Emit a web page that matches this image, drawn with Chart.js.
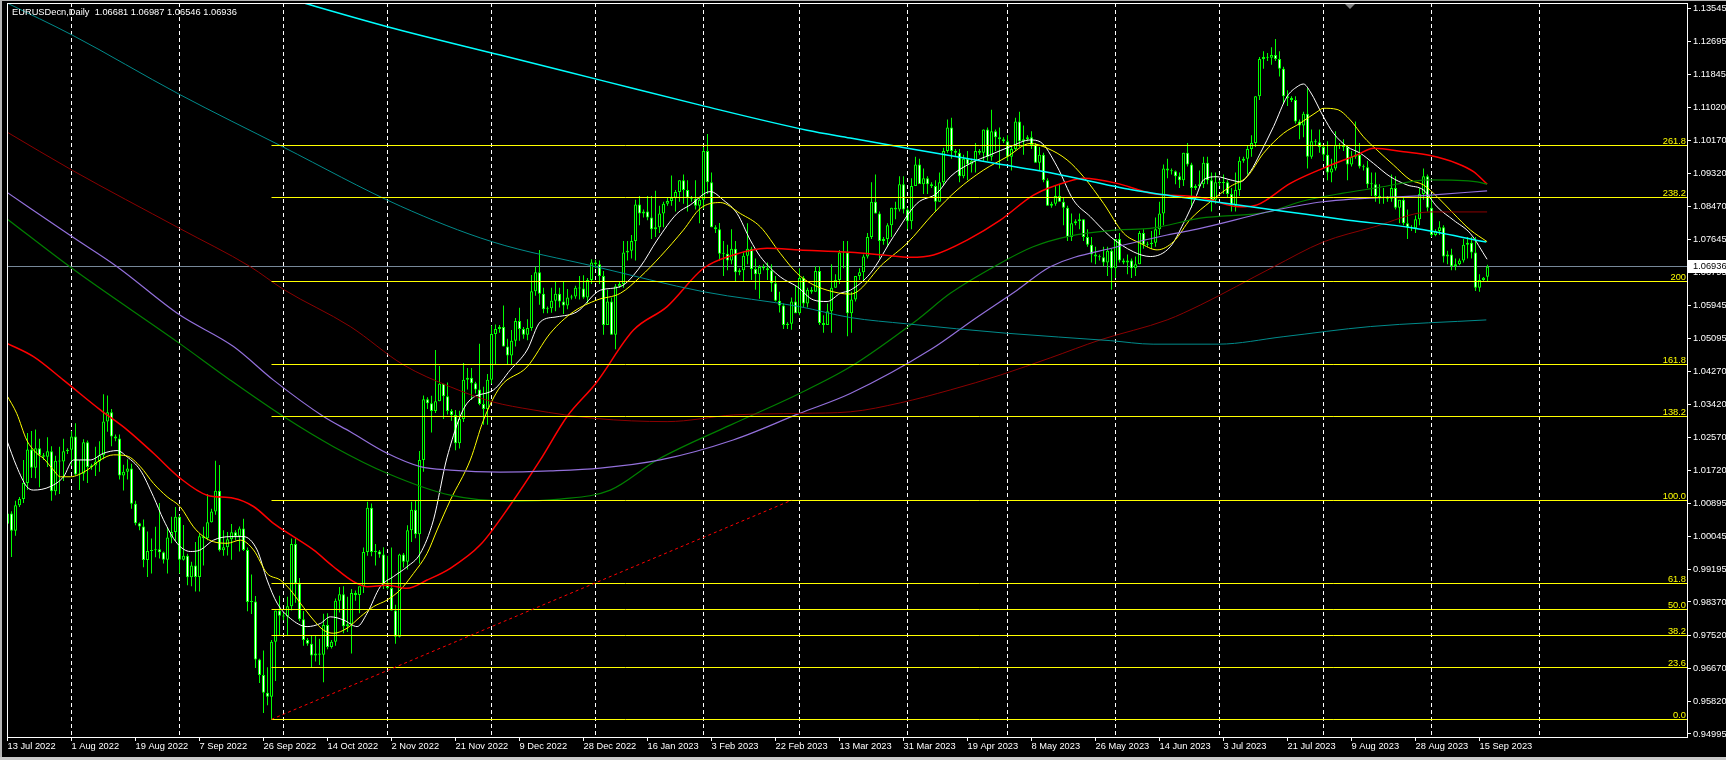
<!DOCTYPE html>
<html>
<head>
<meta charset="utf-8">
<title>EURUSDecn,Daily</title>
<script src="https://cdn.jsdelivr.net/npm/chart.js@4.4.0/dist/chart.umd.min.js"></script>
<style>
  html, body { margin: 0; padding: 0; background: #000; }
  canvas { display: block; }
</style>
</head>
<body>
<canvas id="chart" width="1726" height="760"></canvas>
<script>
// Bar index 0 = Mon 1 Aug 2022. The broker has Sunday bars, so a week is Sun..Fri (6 bars).
const firstBar = -16; // Wed 13 Jul 2022

// Daily candles, one row per week (Sun, Mon, Tue, Wed, Thu, Fri)
const opens = [
  1.0037,1.0063,1.0019,
  1.0084,1.0100,1.0141,1.0227,1.0180,1.0230, // Jul 17
  1.0212,1.0208,1.0222,1.0120,1.0198,1.0196,
  1.0222,1.0226,1.0260,1.0163,1.0165,1.0245,
  1.0182,1.0186,1.0196,1.0212,1.0298,1.0322, // Aug 7
  1.0260,1.0255,1.0160,1.0170,1.0178,1.0088,
  1.0038,1.0030,0.9944,0.9967,0.9969,0.9972,
  0.9964,0.9945,1.0002,1.0016,1.0055,0.9945,
  0.9955,0.9900,0.9930,0.9901,1.0005,1.0000, // Sep 4
  1.0041,1.0068,1.0121,0.9969,0.9977,0.9997,
  1.0015,1.0005,1.0025,0.9970,0.9837,0.9838,
  0.9690,0.9650,0.9605,0.9595,0.9735,0.9815,
  0.9802,0.9800,0.9826,0.9985,0.9884,0.9793, // Oct 2
  0.9740,0.9730,0.9700,0.9705,0.9702,0.9778,
  0.9722,0.9735,0.9840,0.9857,0.9775,0.9780,
  0.9860,0.9855,0.9877,0.9965,1.0078,0.9965,
  0.9966,0.9958,0.9882,0.9873,0.9815,0.9748,
  0.9958,0.9940,1.0020,1.0073,1.0010,1.0200, // Nov 6
  1.0355,1.0345,1.0325,1.0350,1.0395,1.0363,
  1.0325,1.0315,1.0243,1.0305,1.0405,1.0410,
  1.0396,1.0380,1.0343,1.0330,1.0405,1.0522,
  1.0535,1.0540,1.0490,1.0467,1.0505,1.0555, // Dec 4
  1.0535,1.0520,1.0537,1.0631,1.0680,1.0625,
  1.0585,1.0588,1.0607,1.0625,1.0605,1.0595,
  1.0615,1.0618,1.0640,1.0638,1.0615,1.0660,
  1.0705,1.0700,1.0670,1.0545,1.0605,1.0520, // Jan 1
  1.0644,1.0650,1.0730,1.0735,1.0760,1.0853,
  1.0830,1.0835,1.0820,1.0790,1.0795,1.0830,
  1.0855,1.0862,1.0870,1.0885,1.0915,1.0890,
  1.0870,1.0868,1.0850,1.0865,1.0990,1.0910,
  1.0795,1.0790,1.0727,1.0727,1.0710,1.0740, // Feb 5
  1.0680,1.0685,1.0722,1.0740,1.0688,1.0675,
  1.0693,1.0690,1.0685,1.0652,1.0607,1.0595,
  1.0545,1.0548,1.0605,1.0575,1.0665,1.0600,
  1.0635,1.0630,1.0683,1.0550,1.0545,1.0580, // Mar 5
  1.0640,1.0660,1.0730,1.0730,1.0575,1.0610,
  1.0670,1.0680,1.0720,1.0770,1.0860,1.0830,
  1.0760,1.0765,1.0800,1.0845,1.0840,1.0905,
  1.0840,1.0810,1.0900,1.0955,1.0905,1.0920, // Apr 2
  1.0905,1.0900,1.0860,1.0910,1.0990,1.1050,
  1.0990,1.0985,1.0925,1.0970,1.0955,1.0965,
  1.0990,1.0985,1.1045,1.0975,1.1040,1.1025,
  1.1020,1.1015,1.0975,1.0995,1.1065,1.1015,
  1.1020,1.1025,1.1005,1.0960,1.0980,1.0915, // May 7
  1.0850,1.0855,1.0875,1.0860,1.0845,1.0770,
  1.0805,1.0810,1.0815,1.0770,1.0750,1.0725,
  1.0720,1.0718,1.0705,1.0735,1.0690,1.0765,
  1.0710,1.0705,1.0710,1.0690,1.0700,1.0780, // Jun 4
  1.0750,1.0752,1.0755,1.0790,1.0830,1.0945,
  1.0940,1.0938,1.0925,1.0915,1.0985,1.0955,
  1.0895,1.0900,1.0905,1.0960,1.0915,1.0865,
  1.0910,1.0908,1.0910,1.0880,1.0850,1.0890, // Jul 2
  1.0965,1.0970,1.0995,1.1010,1.1130,1.1225,
  1.1230,1.1228,1.1235,1.1225,1.1200,1.1130,
  1.1125,1.1120,1.1065,1.1055,1.1085,1.0975,
  1.1015,1.1012,1.1000,1.0980,1.0935,1.0945,
  1.1005,1.1002,1.1000,1.0955,1.0975,1.0980, // Aug 6
  1.0950,1.0948,1.0905,1.0905,1.0875,1.0870,
  1.0870,1.0868,1.0895,1.0845,1.0865,1.0805,
  1.0795,1.0792,1.0815,1.0880,1.0925,1.0845,
  1.0775,1.0785,1.0795,1.0720,1.0725,1.0695, // Sep 3
  1.0700,1.0710,1.0750,1.0755,1.0730,1.0640,
  1.0660,1.06681
];
const highs = [
  1.0122,1.0069,1.0096,
  1.0105,1.0200,1.0269,1.0274,1.0278,1.0254,
  1.0218,1.0258,1.0235,1.0211,1.0234,1.0254,
  1.0230,1.0274,1.0294,1.0200,1.0253,1.0250,
  1.0190,1.0234,1.0248,1.0368,1.0365,1.0330,
  1.0265,1.0265,1.0188,1.0202,1.0190,1.0096,
  1.0040,1.0048,1.0017,0.9999,1.0029,1.0090,
  0.9966,1.0028,1.0055,1.0080,1.0058,1.0034,
  0.9960,0.9940,0.9990,1.0011,1.0029,1.0113,
  1.0075,1.0198,1.0187,1.0020,1.0016,1.0036,
  1.0020,1.0030,1.0050,0.9976,0.9907,0.9852,
  0.9692,0.9713,0.9670,0.9740,0.9815,0.9853,
  0.9810,0.9850,0.9999,0.9999,0.9898,0.9814,
  0.9745,0.9750,0.9752,0.9743,0.9807,0.9808,
  0.9740,0.9846,0.9875,0.9877,0.9850,0.9870,
  0.9866,0.9876,0.9976,1.0093,1.0089,0.9985,
  0.9970,0.9977,0.9955,0.9976,0.9830,0.9960,
  0.9962,1.0033,1.0093,1.0096,1.0223,1.0365,
  1.0360,1.0364,1.0481,1.0440,1.0395,1.0398,
  1.0330,1.0328,1.0326,1.0448,1.0435,1.0435,
  1.0400,1.0497,1.0387,1.0420,1.0544,1.0546,
  1.0545,1.0595,1.0510,1.0532,1.0563,1.0589,
  1.0540,1.0560,1.0673,1.0694,1.0737,1.0640,
  1.0592,1.0640,1.0657,1.0640,1.0655,1.0637,
  1.0622,1.0645,1.0670,1.0672,1.0665,1.0713,
  1.0712,1.0710,1.0683,1.0635,1.0615,1.0650,
  1.0655,1.0760,1.0760,1.0775,1.0865,1.0875,
  1.0840,1.0875,1.0875,1.0888,1.0850,1.0860,
  1.0870,1.0927,1.0890,1.0915,1.0930,1.0915,
  1.0875,1.0915,1.0870,1.1000,1.1033,1.0935,
  1.0800,1.0806,1.0760,1.0750,1.0790,1.0760,
  1.0690,1.0730,1.0805,1.0745,1.0715,1.0698,
  1.0700,1.0705,1.0700,1.0670,1.0630,1.0600,
  1.0552,1.0615,1.0645,1.0690,1.0670,1.0640,
  1.0642,1.0695,1.0695,1.0570,1.0600,1.0700,
  1.0675,1.0737,1.0760,1.0760,1.0630,1.0670,
  1.0690,1.0725,1.0780,1.0910,1.0930,1.0835,
  1.0770,1.0805,1.0845,1.0860,1.0925,1.0925,
  1.0845,1.0920,1.0975,1.0970,1.0945,1.0925,
  1.0910,1.0915,1.0935,1.0998,1.1070,1.1075,
  1.0995,1.0995,1.0980,1.0990,1.0970,1.1010,
  1.0995,1.1045,1.1050,1.1095,1.1045,1.1050,
  1.1025,1.1030,1.1005,1.1075,1.1090,1.1055,
  1.1030,1.1040,1.1010,1.1000,1.0985,1.0920,
  1.0860,1.0900,1.0905,1.0870,1.0850,1.0830,
  1.0815,1.0830,1.0815,1.0790,1.0770,1.0745,
  1.0725,1.0745,1.0745,1.0740,1.0765,1.0780,
  1.0715,1.0725,1.0715,1.0720,1.0785,1.0790,
  1.0758,1.0785,1.0820,1.0860,1.0955,1.0970,
  1.0945,1.0940,1.0935,1.0985,1.1010,1.0960,
  1.0905,1.0940,1.0975,1.0975,1.0935,1.0935,
  1.0915,1.0930,1.0915,1.0895,1.0935,1.0975,
  1.0975,1.1005,1.1030,1.1130,1.1230,1.1245,
  1.1240,1.1255,1.1276,1.1245,1.1205,1.1145,
  1.1130,1.1130,1.1070,1.1090,1.1150,1.1045,
  1.1020,1.1045,1.1005,1.1015,1.0970,1.1040,
  1.1010,1.1020,1.1005,1.0990,1.1065,1.1010,
  1.0955,1.0965,1.0935,1.0935,1.0905,1.0895,
  1.0875,1.0930,1.0925,1.0865,1.0875,1.0840,
  1.0800,1.0825,1.0895,1.0945,1.0930,1.0880,
  1.0790,1.0810,1.0800,1.0735,1.0740,1.0715,
  1.0715,1.0765,1.0770,1.0770,1.0770,1.0675,
  1.0668,1.06987
];
const lows = [
  0.9998,0.9952,1.0006,
  1.0080,1.0090,1.0124,1.0154,1.0153,1.0130,
  1.0200,1.0182,1.0096,1.0110,1.0113,1.0146,
  1.0215,1.0185,1.0161,1.0123,1.0147,1.0141,
  1.0175,1.0159,1.0170,1.0202,1.0272,1.0235,
  1.0248,1.0150,1.0122,1.0150,1.0075,1.0033,
  1.0020,0.9926,0.9901,0.9910,0.9951,0.9948,
  0.9935,0.9910,0.9987,0.9993,0.9910,0.9943,
  0.9880,0.9877,0.9864,0.9864,0.9930,0.9995,
  1.0040,1.0060,0.9966,0.9955,0.9956,0.9945,
  0.9995,0.9966,0.9967,0.9813,0.9806,0.9668,
  0.9630,0.9553,0.9573,0.9536,0.9635,0.9750,
  0.9790,0.9750,0.9815,0.9835,0.9788,0.9725,
  0.9725,0.9670,0.9685,0.9676,0.9632,0.9716,
  0.9718,0.9725,0.9810,0.9757,0.9760,0.9705,
  0.9840,0.9808,0.9860,0.9955,0.9954,0.9930,
  0.9950,0.9870,0.9869,0.9815,0.9730,0.9746,
  0.9925,0.9920,0.9990,1.0000,0.9935,1.0170,
  1.0330,1.0270,1.0320,1.0350,1.0305,1.0316,
  1.0300,1.0225,1.0229,1.0297,1.0380,1.0353,
  1.0370,1.0340,1.0290,1.0290,1.0395,1.0445,
  1.0525,1.0490,1.0445,1.0443,1.0490,1.0505,
  1.0510,1.0506,1.0530,1.0620,1.0597,1.0575,
  1.0575,1.0576,1.0580,1.0590,1.0573,1.0585,
  1.0610,1.0612,1.0610,1.0612,1.0600,1.0650,
  1.0690,1.0650,1.0520,1.0545,1.0520,1.0483,
  1.0640,1.0640,1.0710,1.0715,1.0710,1.0800,
  1.0820,1.0813,1.0765,1.0770,1.0780,1.0795,
  1.0850,1.0850,1.0835,1.0860,1.0855,1.0835,
  1.0860,1.0840,1.0805,1.0842,1.0880,1.0795,
  1.0780,1.0710,1.0670,1.0685,1.0700,1.0655,
  1.0672,1.0657,1.0700,1.0660,1.0635,1.0612,
  1.0685,1.0660,1.0630,1.0605,1.0577,1.0535,
  1.0535,1.0533,1.0575,1.0570,1.0590,1.0590,
  1.0625,1.0630,1.0545,1.0525,1.0545,1.0525,
  1.0640,1.0650,1.0690,1.0516,1.0525,1.0605,
  1.0660,1.0655,1.0715,1.0765,1.0830,1.0715,
  1.0750,1.0745,1.0770,1.0815,1.0835,1.0830,
  1.0790,1.0790,1.0900,1.0910,1.0880,1.0880,
  1.0895,1.0835,1.0860,1.0900,1.0985,1.0970,
  1.0975,1.0910,1.0920,1.0915,1.0935,1.0935,
  1.0980,1.0965,1.0965,1.0965,1.0990,1.0945,
  1.1010,1.0965,1.0940,1.0990,1.1000,1.0980,
  1.1015,1.0995,1.0960,1.0940,1.0910,1.0850,
  1.0845,1.0850,1.0860,1.0800,1.0760,1.0760,
  1.0800,1.0790,1.0760,1.0745,1.0705,1.0700,
  1.0710,1.0695,1.0670,1.0635,1.0665,1.0705,
  1.0700,1.0675,1.0665,1.0670,1.0700,1.0740,
  1.0745,1.0740,1.0745,1.0775,1.0800,1.0920,
  1.0930,1.0905,1.0895,1.0900,1.0950,1.0845,
  1.0890,1.0895,1.0895,1.0905,1.0835,1.0855,
  1.0900,1.0880,1.0870,1.0835,1.0835,1.0875,
  1.0960,1.0930,1.0975,1.1000,1.1120,1.1200,
  1.1220,1.1210,1.1220,1.1180,1.1110,1.1105,
  1.1115,1.1060,1.1020,1.1025,1.0945,1.0970,
  1.1005,1.0985,1.0965,1.0915,1.0910,1.0940,
  1.0995,1.0990,1.0915,1.0950,1.0970,1.0945,
  1.0940,1.0895,1.0875,1.0860,1.0855,1.0855,
  1.0860,1.0860,1.0840,1.0805,1.0800,1.0765,
  1.0785,1.0780,1.0800,1.0865,1.0835,1.0770,
  1.0772,1.0775,1.0705,1.0700,1.0685,1.0685,
  1.0698,1.0705,1.0715,1.0715,1.0632,1.0630,
  1.0655,1.06546
];
const closes = [
  1.0063,1.0019,1.0084,
  1.0100,1.0141,1.0227,1.0180,1.0230,1.0212,
  1.0208,1.0222,1.0120,1.0198,1.0196,1.0222,
  1.0226,1.0260,1.0163,1.0165,1.0245,1.0182,
  1.0186,1.0196,1.0212,1.0298,1.0322,1.0260,
  1.0255,1.0160,1.0170,1.0178,1.0088,1.0038,
  1.0030,0.9944,0.9967,0.9969,0.9972,0.9964,
  0.9945,1.0002,1.0016,1.0055,0.9945,0.9955,
  0.9900,0.9930,0.9901,1.0005,1.0000,1.0041,
  1.0068,1.0121,0.9969,0.9977,0.9997,1.0015,
  1.0005,1.0025,0.9970,0.9837,0.9838,0.9690,
  0.9650,0.9605,0.9595,0.9735,0.9815,0.9802,
  0.9800,0.9826,0.9985,0.9884,0.9793,0.9740,
  0.9730,0.9700,0.9705,0.9702,0.9778,0.9722,
  0.9735,0.9840,0.9857,0.9775,0.9780,0.9860,
  0.9855,0.9877,0.9965,1.0078,0.9965,0.9966,
  0.9958,0.9882,0.9873,0.9815,0.9748,0.9958,
  0.9940,1.0020,1.0073,1.0010,1.0200,1.0355,
  1.0345,1.0325,1.0350,1.0395,1.0363,1.0325,
  1.0315,1.0243,1.0305,1.0405,1.0410,1.0396,
  1.0380,1.0343,1.0330,1.0405,1.0522,1.0535,
  1.0540,1.0490,1.0467,1.0505,1.0555,1.0535,
  1.0520,1.0537,1.0631,1.0680,1.0625,1.0585,
  1.0588,1.0607,1.0625,1.0605,1.0595,1.0615,
  1.0618,1.0640,1.0638,1.0615,1.0660,1.0705,
  1.0700,1.0670,1.0545,1.0605,1.0520,1.0644,
  1.0650,1.0730,1.0735,1.0760,1.0853,1.0830,
  1.0835,1.0820,1.0790,1.0795,1.0830,1.0855,
  1.0862,1.0870,1.0885,1.0915,1.0890,1.0870,
  1.0868,1.0850,1.0865,1.0990,1.0910,1.0795,
  1.0790,1.0727,1.0727,1.0710,1.0740,1.0680,
  1.0685,1.0722,1.0740,1.0688,1.0675,1.0693,
  1.0690,1.0685,1.0652,1.0607,1.0595,1.0545,
  1.0548,1.0605,1.0575,1.0665,1.0600,1.0635,
  1.0630,1.0683,1.0550,1.0545,1.0580,1.0640,
  1.0660,1.0730,1.0730,1.0575,1.0610,1.0670,
  1.0680,1.0720,1.0770,1.0860,1.0830,1.0760,
  1.0765,1.0800,1.0845,1.0840,1.0905,1.0840,
  1.0810,1.0900,1.0955,1.0905,1.0920,1.0905,
  1.0900,1.0860,1.0910,1.0990,1.1050,1.0990,
  1.0985,1.0925,1.0970,1.0955,1.0965,1.0990,
  1.0985,1.1045,1.0975,1.1040,1.1025,1.1020,
  1.1015,1.0975,1.0995,1.1065,1.1015,1.1020,
  1.1025,1.1005,1.0960,1.0980,1.0915,1.0850,
  1.0855,1.0875,1.0860,1.0845,1.0770,1.0805,
  1.0810,1.0815,1.0770,1.0750,1.0725,1.0720,
  1.0718,1.0705,1.0735,1.0690,1.0765,1.0710,
  1.0705,1.0710,1.0690,1.0700,1.0780,1.0750,
  1.0752,1.0755,1.0790,1.0830,1.0945,1.0940,
  1.0938,1.0925,1.0915,1.0985,1.0955,1.0895,
  1.0900,1.0905,1.0960,1.0915,1.0865,1.0910,
  1.0908,1.0910,1.0880,1.0850,1.0890,1.0965,
  1.0970,1.0995,1.1010,1.1130,1.1225,1.1230,
  1.1228,1.1235,1.1225,1.1200,1.1130,1.1125,
  1.1120,1.1065,1.1055,1.1085,1.0975,1.1015,
  1.1012,1.1000,1.0980,1.0935,1.0945,1.1005,
  1.1002,1.1000,1.0955,1.0975,1.0980,1.0950,
  1.0948,1.0905,1.0905,1.0875,1.0870,1.0870,
  1.0868,1.0895,1.0845,1.0865,1.0805,1.0795,
  1.0792,1.0815,1.0880,1.0925,1.0845,1.0775,
  1.0785,1.0795,1.0720,1.0725,1.0695,1.0700,
  1.0710,1.0750,1.0755,1.0730,1.0640,1.0660,
  1.0666,1.06936
];

// Moving averages as [bar index, price]
const maWhite = [[-16.2,1.0251],[-13.7,1.0183],[-11.2,1.0132],[-9.5,1.0123],[-5.3,1.0132],[-2,1.0157],[0.5,1.0200],[4.7,1.0200],[8,1.0217],[11.4,1.0224],[13.9,1.0208],[17.2,1.0174],[20.5,1.0106],[23,1.0047],[26.4,0.9987],[29.7,0.9966],[32.2,0.9970],[35.5,0.9995],[39.7,1.0004],[43,1.0004],[46.4,0.9970],[48.9,0.9893],[51.4,0.9834],[54.7,0.9795],[58.9,0.9774],[62.2,0.9782],[64.7,0.9799],[68,0.9791],[71.4,0.9774],[73.9,0.9808],[77.2,0.9876],[80.5,0.9902],[83.9,0.9927],[87.2,0.9961],[90.5,1.0047],[93.9,1.0207],[98.9,1.0345],[105.5,1.0379],[109.7,1.0430],[113.9,1.0481],[117.2,1.0553],[121.4,1.0566],[126.4,1.0579],[132.2,1.0634],[137.2,1.0643],[142.2,1.0694],[146.4,1.0762],[151.4,1.0830],[154.7,1.0852],[159.7,1.0886],[163,1.0864],[166.4,1.0830],[169.7,1.0762],[172.2,1.0720],[177.2,1.0668],[181.4,1.0643],[185.5,1.0609],[188.9,1.0605],[192.2,1.0626],[194.7,1.0634],[199.7,1.0677],[205.5,1.0771],[211.4,1.0856],[216.4,1.0882],[219.7,1.0924],[224.7,1.0958],[229.7,1.0980],[234.7,1.1001],[239.7,1.1018],[242.2,1.1013],[246.4,1.0950],[250.5,1.0864],[254.7,1.0822],[259.7,1.0771],[265.5,1.0732],[269.7,1.0720],[274.7,1.0745],[278,1.0805],[281,1.0870],[283,1.0916],[286.4,1.0924],[289.7,1.0916],[292.2,1.0911],[294.7,1.0937],[297.2,1.0984],[300.5,1.1052],[303.9,1.1129],[306.4,1.1154],[308,1.1161],[309.7,1.1141],[313,1.1077],[315.5,1.1035],[318.9,1.1001],[322.2,1.0984],[325.5,1.0958],[329.7,1.0924],[333.9,1.0903],[338,1.0890],[341.4,1.0847],[345.5,1.0813],[349.7,1.0779],[353.9,1.0713]];
const maYellow = [[-16.2,1.0366],[-13.7,1.0319],[-11.2,1.0251],[-8.7,1.0217],[-7,1.0204],[-4.5,1.0174],[-2.8,1.0157],[-0.3,1.0157],[3.9,1.0174],[7.2,1.0200],[10.5,1.0213],[13.9,1.0210],[17.2,1.0183],[20.5,1.0140],[23.9,1.0106],[27.2,1.0080],[30.5,1.0029],[33,1.0004],[35.5,0.9991],[38.9,0.9987],[42.2,0.9995],[45.5,0.9970],[48.9,0.9910],[52.2,0.9893],[54.7,0.9868],[57.2,0.9834],[60.5,0.9791],[63,0.9765],[65.5,0.9757],[68.9,0.9770],[72.2,0.9799],[75.5,0.9825],[78.9,0.9842],[82.2,0.9868],[85.5,0.9910],[88.9,0.9961],[91.4,1.0021],[94.7,1.0097],[99.7,1.0200],[103,1.0302],[107.2,1.0387],[113.9,1.0438],[119.7,1.0524],[125.5,1.0579],[131.4,1.0609],[137.2,1.0626],[142.2,1.0668],[147.2,1.0720],[153,1.0788],[157.2,1.0843],[162.2,1.0858],[167.2,1.0830],[172.2,1.0796],[177.2,1.0728],[181.4,1.0677],[184.7,1.0652],[188.9,1.0634],[194.7,1.0624],[203,1.0703],[208.9,1.0754],[215.5,1.0830],[221.4,1.0890],[228,1.0941],[233.9,1.0975],[239.7,1.1009],[243.9,1.0997],[248.9,1.0967],[253,1.0924],[258,1.0856],[263,1.0780],[267.2,1.0754],[271.4,1.0737],[275.5,1.0758],[279.7,1.0815],[284.7,1.0860],[289.7,1.0899],[293.9,1.0924],[298,1.0984],[303,1.1035],[307.2,1.1061],[311.4,1.1090],[313,1.1099],[316.4,1.1096],[319.7,1.1069],[323,1.1026],[326.4,1.0992],[330.5,1.0954],[334.7,1.0916],[338,1.0903],[341.4,1.0873],[345.5,1.0830],[349.7,1.0788],[353.9,1.0758]];
const maRed = [[-16.1,1.0498],[-9.5,1.0464],[-2,1.0404],[7.2,1.0328],[13.9,1.0277],[20.5,1.0217],[27.2,1.0153],[33.9,1.0110],[40.5,1.0102],[45.5,1.0081],[50.5,1.0038],[55.5,1.0004],[60.5,0.9970],[65.5,0.9927],[70.5,0.9889],[73.9,0.9876],[78.9,0.9880],[83.9,0.9872],[88.9,0.9893],[94.7,0.9923],[102.2,0.9983],[109.7,1.0085],[117.2,1.0200],[123.9,1.0311],[131.1,1.0396],[140.5,1.0532],[148.9,1.0592],[158,1.0690],[165.5,1.0724],[173.9,1.0741],[182,1.0737],[194.7,1.0731],[203,1.0724],[209.7,1.0718],[215.5,1.0724],[223.9,1.0762],[232.2,1.0813],[240.5,1.0877],[248.9,1.0911],[253,1.0920],[261.4,1.0907],[269.7,1.0882],[282.2,1.0871],[292.2,1.0847],[296.4,1.0852],[304.7,1.0907],[313,1.0946],[321.4,1.0980],[325.5,1.0997],[333,1.0988],[339.7,1.0978],[346.4,1.0958],[350.5,1.0937],[353.9,1.0905]];
const maMaroon = [[-16.1,1.1038],[0.1,1.0941],[27,1.0792],[44.7,1.0694],[53,1.0636],[69.7,1.0541],[83,1.0443],[94.7,1.0387],[105.1,1.0349],[115.4,1.0328],[131.1,1.0306],[148.9,1.0298],[165.5,1.0315],[182.2,1.0319],[194.7,1.0323],[207.2,1.0346],[219.7,1.0379],[232.2,1.0417],[244.7,1.0461],[257.2,1.0507],[273.9,1.0558],[282.2,1.0596],[300.4,1.0693],[312.9,1.0757],[325.4,1.0795],[339.7,1.0834],[353.9,1.0834]];
const maGreen = [[-16.1,1.0816],[0.1,1.0690],[27,1.0498],[39.7,1.0404],[53,1.0311],[65.5,1.0234],[78.9,1.0166],[94.7,1.0110],[109.7,1.0095],[122.2,1.0100],[134.7,1.0123],[146.4,1.0200],[164.7,1.0289],[182,1.0370],[194.7,1.0438],[211.4,1.0558],[219.7,1.0626],[232.2,1.0703],[240.4,1.0745],[248.9,1.0771],[261.4,1.0788],[269.7,1.0792],[282.2,1.0818],[299.7,1.0835],[307.2,1.0860],[317.9,1.0882],[325.4,1.0894],[339.7,1.0916],[351.4,1.0911],[353.9,1.0905]];
const maPurple = [[-16.1,1.0884],[0.1,1.0771],[11.4,1.0694],[27,1.0571],[40.5,1.0490],[50.5,1.0404],[63,1.0311],[69.7,1.0272],[78.9,1.0217],[87.2,1.0183],[94.7,1.0174],[107.2,1.0169],[119.7,1.0172],[132.2,1.0179],[147.2,1.0200],[165.4,1.0251],[182,1.0319],[194.7,1.0370],[215.2,1.0485],[225.4,1.0558],[236.4,1.0634],[244.7,1.0694],[261.4,1.0745],[273.9,1.0775],[282.2,1.0792],[300.4,1.0837],[312.9,1.0860],[339.7,1.0877],[353.9,1.0888]];
const maCyan = [[52,1.1386],[79.2,1.1307],[107.2,1.1235],[132.2,1.1171],[157.2,1.1107],[183.9,1.1043],[194.7,1.1023],[209,1.0997],[230.4,1.0959],[244.7,1.0934],[265.4,1.0890],[282.2,1.0865],[302.9,1.0836],[319.2,1.0813],[335.4,1.0793],[353.7,1.0757]];
const maTeal = [[-16.1,1.1368],[0.2,1.1286],[26.9,1.1135],[52.9,1.1000],[82.2,1.0849],[105.1,1.0758],[131.1,1.0694],[158,1.0630],[182,1.0592],[194.7,1.0564],[208.8,1.0548],[233.7,1.0524],[259.7,1.0505],[270.4,1.0496],[286.7,1.0496],[302.9,1.0515],[324.7,1.0541],[353.7,1.0558]];

// Fibonacci retracement (anchored on the 28 Sep 2022 low)
const fibLabels = ['0.0', '23.6', '38.2', '50.0', '61.8', '100.0', '138.2', '161.8', '200', '238.2', '261.8'];
const fibPrices = [0.9537, 0.9669, 0.9751, 0.9817, 0.9883, 1.0097, 1.0311, 1.0443, 1.0657, 1.0871, 1.1003];
const fibAnchors = [50, 180];

// Axes
const priceTicks = [0.94995, 0.95820, 0.96670, 0.97520, 0.98370, 0.99195, 1.00045, 1.00895, 1.01720, 1.02570, 1.03420, 1.04270, 1.05095, 1.05945, 1.06795, 1.07645, 1.08470, 1.09320, 1.10170, 1.11020, 1.11845, 1.12695, 1.13545];
const dateTicks = [-16, 0, 16, 32, 48, 64, 80, 96, 112, 128, 144, 160, 176, 192, 208, 224, 240, 256, 272, 288, 304, 320, 336, 352];
const dateLabels = ['13 Jul 2022', '1 Aug 2022', '19 Aug 2022', '7 Sep 2022', '26 Sep 2022', '14 Oct 2022', '2 Nov 2022', '21 Nov 2022', '9 Dec 2022', '28 Dec 2022', '16 Jan 2023', '3 Feb 2023', '22 Feb 2023', '13 Mar 2023', '31 Mar 2023', '19 Apr 2023', '8 May 2023', '26 May 2023', '14 Jun 2023', '3 Jul 2023', '21 Jul 2023', '9 Aug 2023', '28 Aug 2023', '15 Sep 2023'];
const monthStarts = [0, 27, 53, 79, 105, 131, 158, 182, 209, 234, 261, 287, 313, 340, 367];
const xMin = -16.125, xMax = 403.875;
const yMin = 0.94918, yMax = 1.13681;

const headerText = 'EURUSDecn,Daily  1.06681 1.06987 1.06546 1.06936';
const FONT = '9.3px "Liberation Sans", Arial, sans-serif';

// build candle datasets
const wicks = [];
const bodies = [];
const bodyFill = [];
for (let i = 0; i < opens.length; i++) {
    const x = firstBar + i;
    wicks.push({ x: x, y: [lows[i], highs[i]] });
    bodies.push({ x: x, y: [opens[i], closes[i]] });
    bodyFill.push(closes[i] >= opens[i] ? '#000000' : '#ffffff');
}
const lastClose = closes[closes.length - 1];

function maLine(points, color, width) {
    return {
        type: 'line',
        data: points.map(p => ({ x: p[0], y: p[1] })),
        borderColor: color,
        borderWidth: width,
        pointRadius: 0,
        cubicInterpolationMode: 'monotone',
        order: 0
    };
}

function hLine(ctx, x1, x2, py) {
    const y = Math.floor(py) + 0.5;
    ctx.beginPath();
    ctx.moveTo(x1, y);
    ctx.lineTo(x2, y);
    ctx.stroke();
}

const mt4Look = {
    id: 'mt4Look',
    beforeDraw(chart) {
        const ctx = chart.ctx;
        ctx.save();
        ctx.fillStyle = '#000000';
        ctx.fillRect(0, 0, chart.width, chart.height);
        ctx.restore();
    },
    beforeDatasetsDraw(chart) {
        const { ctx, chartArea: a, scales: { x, y } } = chart;
        ctx.save();
        ctx.lineWidth = 1;
        // month separators
        ctx.strokeStyle = '#ffffff';
        ctx.setLineDash([4, 3]);
        monthStarts.forEach(m => {
            const px = Math.floor(x.getPixelForValue(m)) + 0.5;
            ctx.beginPath();
            ctx.moveTo(px, a.top);
            ctx.lineTo(px, a.bottom);
            ctx.stroke();
        });
        ctx.setLineDash([]);
        // bid line
        ctx.strokeStyle = '#778899';
        hLine(ctx, a.left, a.right, y.getPixelForValue(lastClose));
        ctx.restore();
    },
    afterDatasetsDraw(chart) {
        const { ctx, chartArea: a, scales: { x, y } } = chart;
        ctx.save();
        ctx.lineWidth = 1;
        const x0 = x.getPixelForValue(fibAnchors[0]);
        ctx.strokeStyle = '#ffff00';
        fibPrices.forEach(p => hLine(ctx, x0, a.right, y.getPixelForValue(p)));
        // fib base trendline
        ctx.strokeStyle = '#ff0000';
        ctx.setLineDash([3, 3]);
        ctx.beginPath();
        ctx.moveTo(x0, y.getPixelForValue(fibPrices[0]));
        ctx.lineTo(x.getPixelForValue(fibAnchors[1]), y.getPixelForValue(fibPrices[5]));
        ctx.stroke();
        ctx.setLineDash([]);
        // level labels
        ctx.font = FONT;
        ctx.fillStyle = '#ffff00';
        ctx.textAlign = 'right';
        ctx.textBaseline = 'alphabetic';
        fibPrices.forEach((p, i) => {
            ctx.fillText(fibLabels[i], a.right - 1, Math.floor(y.getPixelForValue(p)) - 1);
        });
        ctx.restore();
    },
    afterDraw(chart) {
        const { ctx, chartArea: a, scales: { y } } = chart;
        ctx.save();
        // plot frame
        ctx.strokeStyle = '#ffffff';
        ctx.lineWidth = 1;
        ctx.strokeRect(a.left + 0.5, a.top + 0.5, a.right - a.left, a.bottom - a.top);
        // header
        ctx.font = FONT;
        ctx.fillStyle = '#ffffff';
        ctx.textAlign = 'left';
        ctx.textBaseline = 'middle';
        ctx.fillText(headerText, 12, 12);
        // current price box
        const py = Math.floor(y.getPixelForValue(lastClose));
        ctx.fillStyle = '#ffffff';
        ctx.fillRect(a.right + 1, py - 6, chart.width - a.right - 1, 13);
        ctx.fillStyle = '#000000';
        ctx.fillText(lastClose.toFixed(5), a.right + 6, py + 0.5);
        // chart shift marker
        ctx.fillStyle = '#808080';
        ctx.beginPath();
        ctx.moveTo(1345, a.top + 1);
        ctx.lineTo(1355, a.top + 1);
        ctx.lineTo(1350, a.top + 6);
        ctx.closePath();
        ctx.fill();
        // window edges
        ctx.fillStyle = '#b4b4b4';
        ctx.fillRect(0, 0, 2, chart.height);
        ctx.fillRect(0, 0, chart.width, 1);
        ctx.fillStyle = '#c8c8c8';
        ctx.fillRect(0, chart.height - 3, chart.width, 3);
        ctx.restore();
    }
};

const tickFont = { family: 'Liberation Sans', size: 9.3 };

const ctx = document.getElementById('chart').getContext('2d');
const chart = new Chart(ctx, {
    type: 'bar',
    data: {
        datasets: [
            maLine(maTeal, '#008b8b', 1),
            maLine(maCyan, '#00ffff', 1.5),
            maLine(maMaroon, '#8b0000', 1),
            maLine(maPurple, '#9370db', 1.2),
            maLine(maGreen, '#008000', 1.2),
            maLine(maRed, '#ff0000', 1.5),
            maLine(maYellow, '#ffff00', 1),
            maLine(maWhite, '#ffffff', 1),
            {
                type: 'bar',
                data: bodies,
                backgroundColor: bodyFill,
                borderColor: '#00ff00',
                borderWidth: 1,
                borderSkipped: false,
                barThickness: 3,
                minBarLength: 1,
                inflateAmount: 0,
                grouped: false,
                order: 1
            },
            {
                type: 'bar',
                data: wicks,
                backgroundColor: '#00ff00',
                borderWidth: 0,
                barThickness: 1,
                inflateAmount: 0,
                grouped: false,
                order: 2
            }
        ]
    },
    options: {
        responsive: false,
        animation: false,
        events: [],
        layout: { padding: { left: 7, top: 3, right: 0, bottom: 0 } },
        plugins: { legend: { display: false }, tooltip: { enabled: false } },
        scales: {
            x: {
                type: 'linear',
                min: xMin,
                max: xMax,
                offset: false,
                grid: { display: true, offset: false, drawOnChartArea: false, drawTicks: true, tickLength: 4, color: '#ffffff' },
                border: { display: false },
                ticks: {
                    autoSkip: false,
                    maxRotation: 0,
                    align: 'start',
                    padding: 0,
                    color: '#ffffff',
                    font: tickFont,
                    callback: (value, index) => dateLabels[index]
                },
                afterBuildTicks: scale => { scale.ticks = dateTicks.map(v => ({ value: v })); },
                afterFit: scale => { scale.height = 23; scale.paddingLeft = 0; scale.paddingRight = 0; }
            },
            y: {
                type: 'linear',
                position: 'right',
                min: yMin,
                max: yMax,
                beginAtZero: false,
                grid: { display: true, drawOnChartArea: false, drawTicks: true, tickLength: 4, color: '#ffffff' },
                border: { display: false },
                ticks: {
                    autoSkip: false,
                    padding: 2,
                    color: '#ffffff',
                    font: tickFont,
                    callback: value => value.toFixed(5)
                },
                afterBuildTicks: scale => { scale.ticks = priceTicks.map(v => ({ value: v })); },
                afterFit: scale => { scale.width = 39; scale.paddingTop = 0; scale.paddingBottom = 0; }
            }
        }
    },
    plugins: [mt4Look]
});
</script>
</body>
</html>
